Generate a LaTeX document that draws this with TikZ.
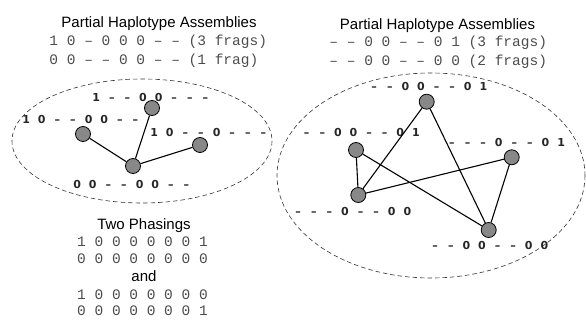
\documentclass[tikz,border=0pt]{standalone}
\usepackage{fontspec}
\setmainfont{Liberation Sans}
\newfontfamily\monof{Liberation Mono}
\newfontfamily\lblf{DejaVu Sans}
\def\tk#1{\makebox[15.6pt]{\if-#1\textendash\else#1\fi}}
\def\bits#1#2#3#4#5#6#7#8{\tk{#1}\tk{#2}\tk{#3}\tk{#4}\tk{#5}\tk{#6}\tk{#7}\tk{#8}}
\begin{document}
\begin{tikzpicture}[x=1pt,y=-1pt,
  title/.style={inner sep=0pt,anchor=base,font=\fontsize{15}{18}\selectfont},
  mono/.style={inner sep=0pt,anchor=base,text=black!70,font=\monof\fontsize{14.5}{17}\selectfont},
  monol/.style={mono,anchor=base west},
  bitlbl/.style={inner sep=0pt,anchor=base west,font=\lblf\bfseries\fontsize{11}{13}\selectfont,text=black!85},
  vtx/.style={circle,draw=black,line width=0.8pt,fill={rgb,255:red,136;green,136;blue,136},minimum size=15pt,inner sep=0pt},
  edge/.style={line width=1.1pt,black},
  group/.style={dashed,dash pattern=on 4.5pt off 3pt,line width=0.6pt,black!80}]
\useasboundingbox (0,0) rectangle (586,320);
% titles and assemblies
\node[title] (t1) at (159,27.3) {Partial Haplotype Assemblies};
\node[monol] (a1) at (49.25,45.7) {1 0 – 0 0 0 – – (3 frags)};
\node[monol] (a2) at (49.25,64.3) {0 0 – – 0 0 – – (1 frag)};
\node[title] (t2) at (437.5,29.3) {Partial Haplotype Assemblies};
\node[monol] (b1) at (329.25,46.7) {– – 0 0 – – 0 1 (3 frags)};
\node[monol] (b2) at (329.25,66) {– – 0 0 – – 0 0 (2 frags)};
% ellipses
\draw[group] (142,141) ellipse [x radius=130, y radius=62];
\draw[group] (431,175.5) ellipse [x radius=154, y radius=102.5];
% left labels
\node[bitlbl] (la) at (96-7.8,98+4) {\bits1--00---};
\node[bitlbl] (lb) at (26-7.8,120+4) {\bits10--00--};
\node[bitlbl] (lc) at (154-7.8,132.7+4) {\bits10--0---};
\node[bitlbl] (ld) at (77-7.8,185+4) {\bits00--00--};
% right labels
\node[bitlbl] (ra) at (374-7.8,86.7+4) {\bits--00--01};
\node[bitlbl] (rb) at (306.5-7.8,132.7+4) {\bits--00--01};
\node[bitlbl] (rc) at (451.7-7.8,142.7+4) {\bits---0--01};
\node[bitlbl] (rd) at (298-7.8,211.7+4) {\bits---0--00};
\node[bitlbl] (re) at (435-7.8,245.7+4) {\bits--00--00};
% left graph
\node[vtx] (p1) at (152,108) {};
\node[vtx] (p2) at (83,134) {};
\node[vtx] (p3) at (200,145) {};
\node[vtx] (p4) at (133,166) {};
\draw[edge] (p2) -- (p4);
\draw[edge] (p1) -- (p4);
\draw[edge] (p3) -- (p4);
% right graph
\node[vtx] (q1) at (426.7,101.7) {};
\node[vtx] (q2) at (356,150) {};
\node[vtx] (q3) at (511.7,157.3) {};
\node[vtx] (q4) at (358.3,195) {};
\node[vtx] (q5) at (488.7,230) {};
\draw[edge] (q1) -- (q4);
\draw[edge] (q1) -- (q5);
\draw[edge] (q2) -- (q4);
\draw[edge] (q2) -- (q5);
\draw[edge] (q3) -- (q4);
\draw[edge] (q3) -- (q5);
% phasings
\node[title] (t3) at (144,230) {Two Phasings};
\node[mono] (c1) at (142.5,246.7) {1 0 0 0 0 0 0 1};
\node[mono] (c2) at (142.5,263.3) {0 0 0 0 0 0 0 0};
\node[title] (and) at (144,281) {and};
\node[mono] (c3) at (142.5,299) {1 0 0 0 0 0 0 0};
\node[mono] (c4) at (142.5,316) {0 0 0 0 0 0 0 1};
\end{tikzpicture}
\end{document}
